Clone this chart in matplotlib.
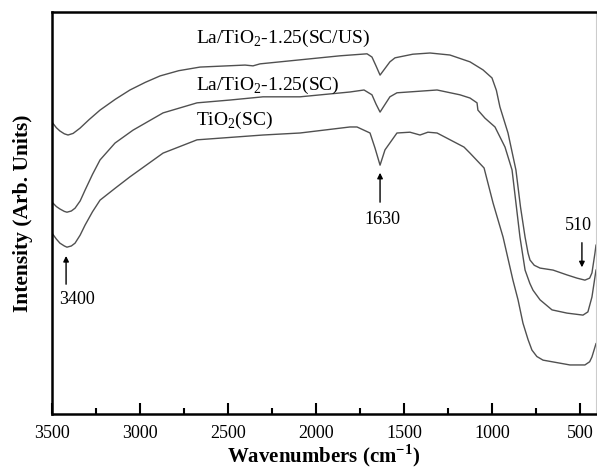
import matplotlib

matplotlib.use("Agg")
import matplotlib.pyplot as plt
from matplotlib.ticker import MultipleLocator

# FTIR spectra (wavenumber in cm-1, intensity in arb. units)
wn_scus = [3500, 3475, 3455, 3430, 3409, 3380, 3341, 3290, 3227, 3140, 3057, 2970,
           2886, 2780, 2659, 2403, 2358, 2318, 2091, 1864, 1710, 1682, 1659, 1636,
           1614, 1580, 1551, 1450, 1352, 1239, 1125, 1051, 1000, 975, 955, 909, 864,
           838, 812, 795, 784, 760, 727, 653, 574, 517, 472, 445, 432, 415, 409]
int_scus = [72.6, 71.2, 70.4, 69.7, 69.4, 69.8, 71.1, 73.2, 75.6, 78.3, 80.6, 82.5,
            84.1, 85.4, 86.3, 86.8, 86.6, 87.1, 88.1, 89.1, 89.6, 88.8, 86.6, 84.3,
            85.6, 87.6, 88.6, 89.5, 89.8, 89.3, 87.6, 85.6, 83.6, 80.5, 76.4, 69.9,
            60.7, 51.5, 44.0, 40.0, 38.3, 37.0, 36.3, 35.8, 34.6, 33.8, 33.3, 33.8,
            35.1, 40.0, 42.0]

wn_sc = [3500, 3475, 3455, 3430, 3415, 3390, 3369, 3340, 3312, 3270, 3227, 3142,
         3040, 2869, 2676, 2489, 2301, 2091, 1807, 1727, 1682, 1659, 1636, 1614,
         1580, 1540, 1312, 1182, 1125, 1085, 1080, 1040, 983, 926, 886, 841, 812,
         785, 767, 727, 659, 574, 483, 455, 432, 409]
int_sc = [52.7, 51.6, 51.0, 50.4, 50.2, 50.5, 51.2, 53.0, 55.7, 59.6, 63.2, 67.4,
          70.6, 74.9, 77.4, 78.1, 78.9, 78.9, 80.1, 80.6, 79.4, 77.1, 75.1, 76.6,
          78.9, 79.9, 80.6, 79.4, 78.6, 77.4, 75.6, 73.6, 71.4, 66.4, 60.7, 44.0,
          35.8, 32.5, 30.8, 28.4, 25.9, 25.1, 24.6, 25.4, 29.1, 35.8]

wn_tio2 = [3500, 3475, 3455, 3430, 3415, 3390, 3369, 3340, 3312, 3270, 3227, 3140,
           3057, 2869, 2676, 2301, 2091, 1807, 1767, 1693, 1665, 1636, 1608, 1540,
           1466, 1409, 1364, 1312, 1159, 1125, 1045, 994, 937, 881, 852, 824, 795,
           773, 745, 710, 557, 472, 445, 432, 409]
int_tio2 = [45.0, 43.5, 42.5, 41.8, 41.5, 41.8, 42.5, 44.5, 47.0, 50.3, 53.2, 56.2,
            59.0, 64.9, 68.2, 69.4, 69.9, 71.4, 71.4, 69.9, 66.2, 61.9, 65.7, 69.9,
            70.1, 69.4, 70.1, 69.9, 66.4, 64.9, 61.2, 52.5, 44.0, 33.3, 28.4, 22.6,
            18.5, 15.9, 14.3, 13.4, 12.2, 12.2, 13.0, 14.2, 17.5]

plt.rcParams["font.family"] = ["Liberation Serif", "DejaVu Serif"]
plt.rcParams["mathtext.fontset"] = "custom"
plt.rcParams["mathtext.rm"] = "Liberation Serif"
plt.rcParams["mathtext.bf"] = "Liberation Serif:bold"

fig = plt.figure(figsize=(5.97, 4.71), dpi=100)
ax = fig.add_axes([52 / 597, 57 / 471, 544 / 597, 402 / 471])

line_color = "#505050"
for wn, inten in [(wn_scus, int_scus), (wn_sc, int_sc), (wn_tio2, int_tio2)]:
    ax.plot(wn, inten, color=line_color, lw=1.0, solid_joinstyle="round")

ax.set_xlim(3500, 409)
ax.set_ylim(0, 100)

# curve labels
ax.text(2680, 93.5, "La/TiO$_2$-1.25(SC/US)", fontsize=14, va="center", ha="left")
ax.text(2680, 81.8, "La/TiO$_2$-1.25(SC)", fontsize=14, va="center", ha="left")
ax.text(2680, 73.1, "TiO$_2$(SC)", fontsize=14, va="center", ha="left")

# peak markers
arrow = dict(arrowstyle="-|>", color="black", lw=1.0, mutation_scale=8)
ax.annotate("", xy=(3420, 40.0), xytext=(3420, 31.6), arrowprops=arrow)
ax.text(3358, 28.4, "3400", fontsize=13, ha="center", va="center")
ax.annotate("", xy=(1636, 60.7), xytext=(1636, 52.0), arrowprops=arrow)
ax.text(1625, 48.3, "1630", fontsize=13, ha="center", va="center")
ax.annotate("", xy=(489, 35.8), xytext=(489, 43.3), arrowprops=arrow)
ax.text(511, 47.0, "510", fontsize=13, ha="center", va="center")

ax.xaxis.set_major_locator(MultipleLocator(500))
ax.xaxis.set_minor_locator(MultipleLocator(250))
ax.tick_params(axis="x", which="major", direction="in", length=8, width=1.5,
               labelsize=13, pad=8)
ax.tick_params(axis="x", which="minor", direction="in", length=4, width=1.5)
ax.tick_params(axis="x", top=False)
ax.set_yticks([])

for side in ["left", "bottom", "top"]:
    ax.spines[side].set_linewidth(1.8)
ax.spines["right"].set_linewidth(0.8)
ax.spines["right"].set_color("#cccccc")

ax.set_xlabel("Wavenumbers (cm$^{\\mathbf{-1}}$)", fontsize=15, fontweight="bold",
              labelpad=0)
ax.set_ylabel("Intensity (Arb. Units)", fontsize=15.5, fontweight="bold", labelpad=14)

fig.savefig("out.png", dpi=100)
